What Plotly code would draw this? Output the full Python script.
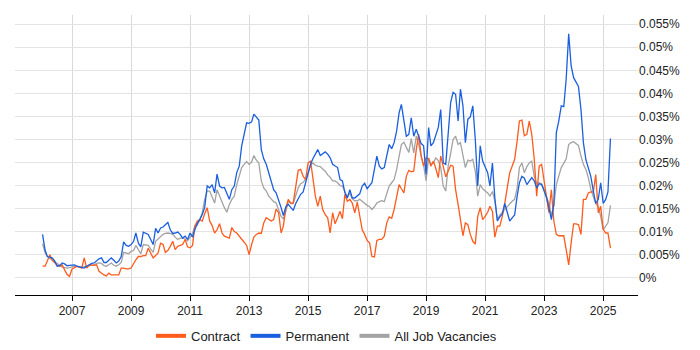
import pandas as pd
import plotly.graph_objects as go

start_month = "2006-01-01"

contract = [
    0.0025, 0.0025, 0.0036, 0.0050, 0.0038, 0.0032, 0.0027, 0.0025, 0.0028, 0.0017, 0.0007, 0.0003,
    0.0019, 0.0022, 0.0025, 0.0023, 0.0021, 0.0043, 0.0021, 0.0027, 0.0028, 0.0027, 0.0028, 0.0014,
    0.0009, 0.0006, 0.0004, 0.0010, 0.0006, 0.0006, 0.0006, 0.0006, 0.0021, 0.0021, 0.0019, 0.0019,
    0.0021, 0.0032, 0.0039, 0.0046, 0.0046, 0.0048, 0.0048, 0.0064, 0.0052, 0.0043, 0.0048, 0.0054,
    0.0075, 0.0072, 0.0055, 0.0059, 0.0068, 0.0079, 0.0061, 0.0068, 0.0070, 0.0072, 0.0083, 0.0067,
    0.0065, 0.0070, 0.0112, 0.0123, 0.0126, 0.0123, 0.0139, 0.0152, 0.0123, 0.0113, 0.0097, 0.0104,
    0.0117, 0.0097, 0.0090, 0.0088, 0.0086, 0.0109, 0.0100, 0.0097, 0.0091, 0.0083, 0.0077, 0.0070,
    0.0050, 0.0072, 0.0088, 0.0094, 0.0097, 0.0096, 0.0119, 0.0130, 0.0126, 0.0123, 0.0126, 0.0149,
    0.0141, 0.0097, 0.0112, 0.0152, 0.0170, 0.0162, 0.0162, 0.0195, 0.0233, 0.0235, 0.0220, 0.0213,
    0.0249, 0.0253, 0.0213, 0.0177, 0.0155, 0.0177, 0.0148, 0.0137, 0.0130, 0.0097, 0.0141, 0.0117,
    0.0130, 0.0144, 0.0128, 0.0181, 0.0166, 0.0170, 0.0162, 0.0141, 0.0164, 0.0136, 0.0104, 0.0094,
    0.0081, 0.0075, 0.0046, 0.0045, 0.0081, 0.0083, 0.0083, 0.0090, 0.0119, 0.0132, 0.0129, 0.0148,
    0.0173, 0.0202, 0.0193, 0.0184, 0.0220, 0.0233, 0.0230, 0.0231, 0.0278, 0.0311, 0.0264, 0.0242,
    0.0260, 0.0258, 0.0242, 0.0253, 0.0237, 0.0217, 0.0264, 0.0242, 0.0219, 0.0231, 0.0244, 0.0242,
    0.0191, 0.0159, 0.0126, 0.0091, 0.0119, 0.0115, 0.0094, 0.0079, 0.0073, 0.0133, 0.0152, 0.0126,
    0.0133, 0.0142, 0.0155, 0.0144, 0.0088, 0.0112, 0.0112, 0.0133, 0.0162, 0.0191, 0.0228, 0.0242,
    0.0257, 0.0297, 0.0340, 0.0342, 0.0308, 0.0311, 0.0340, 0.0311, 0.0257, 0.0177, 0.0242, 0.0246,
    0.0210, 0.0170, 0.0141, 0.0191, 0.0123, 0.0094, 0.0091, 0.0091, 0.0091, 0.0061, 0.0028, 0.0075,
    0.0117, 0.0117, 0.0115, 0.0094, 0.0170, 0.0170, 0.0184, 0.0186, 0.0186, 0.0224, 0.0141, 0.0155,
    0.0105, 0.0097, 0.0097, 0.0064,
]

permanent = [
    0.0094, 0.0060, 0.0046, 0.0045, 0.0043, 0.0036, 0.0025, 0.0026, 0.0032, 0.0030, 0.0026, 0.0027,
    0.0028, 0.0028, 0.0025, 0.0024, 0.0022, 0.0021, 0.0025, 0.0028, 0.0031, 0.0032, 0.0036, 0.0041,
    0.0043, 0.0033, 0.0033, 0.0039, 0.0043, 0.0038, 0.0032, 0.0036, 0.0046, 0.0078, 0.0070, 0.0068,
    0.0072, 0.0079, 0.0097, 0.0075, 0.0067, 0.0099, 0.0097, 0.0094, 0.0083, 0.0072, 0.0107, 0.0097,
    0.0108, 0.0110, 0.0115, 0.0120, 0.0104, 0.0096, 0.0097, 0.0099, 0.0094, 0.0086, 0.0090, 0.0083,
    0.0097, 0.0088, 0.0104, 0.0118, 0.0126, 0.0137, 0.0152, 0.0199, 0.0195, 0.0202, 0.0184, 0.0225,
    0.0199, 0.0195, 0.0196, 0.0181, 0.0170, 0.0191, 0.0199, 0.0228, 0.0242, 0.0286, 0.0315, 0.0336,
    0.0335, 0.0338, 0.0355, 0.0349, 0.0342, 0.0278, 0.0258, 0.0246, 0.0229, 0.0213, 0.0191, 0.0184,
    0.0170, 0.0152, 0.0135, 0.0154, 0.0159, 0.0152, 0.0146, 0.0161, 0.0173, 0.0181, 0.0186, 0.0206,
    0.0224, 0.0246, 0.0258, 0.0268, 0.0278, 0.0265, 0.0268, 0.0273, 0.0268, 0.0260, 0.0246, 0.0242,
    0.0239, 0.0213, 0.0210, 0.0184, 0.0173, 0.0191, 0.0173, 0.0173, 0.0178, 0.0182, 0.0199, 0.0205,
    0.0193, 0.0199, 0.0206, 0.0235, 0.0264, 0.0242, 0.0236, 0.0239, 0.0264, 0.0289, 0.0280, 0.0293,
    0.0318, 0.0358, 0.0376, 0.0344, 0.0307, 0.0311, 0.0347, 0.0307, 0.0322, 0.0307, 0.0291, 0.0286,
    0.0224, 0.0326, 0.0286, 0.0293, 0.0311, 0.0326, 0.0365, 0.0249, 0.0246, 0.0315, 0.0380, 0.0402,
    0.0398, 0.0340, 0.0409, 0.0373, 0.0293, 0.0344, 0.0349, 0.0373, 0.0300, 0.0199, 0.0286, 0.0253,
    0.0242, 0.0228, 0.0199, 0.0249, 0.0173, 0.0123, 0.0132, 0.0138, 0.0161, 0.0141, 0.0123, 0.0130,
    0.0136, 0.0177, 0.0206, 0.0220, 0.0216, 0.0202, 0.0210, 0.0217, 0.0210, 0.0195, 0.0204, 0.0202,
    0.0188, 0.0173, 0.0152, 0.0126, 0.0159, 0.0315, 0.0340, 0.0373, 0.0371, 0.0431, 0.0529, 0.0460,
    0.0434, 0.0423, 0.0415, 0.0365, 0.0293, 0.0256, 0.0235, 0.0220, 0.0188, 0.0161, 0.0170, 0.0206,
    0.0161, 0.0170, 0.0186, 0.0302,
]

all_jobs = [
    0.0074, 0.0054, 0.0046, 0.0042, 0.0038, 0.0033, 0.0030, 0.0026, 0.0023, 0.0022, 0.0021, 0.0022,
    0.0024, 0.0025, 0.0024, 0.0023, 0.0023, 0.0024, 0.0025, 0.0026, 0.0028, 0.0028, 0.0031, 0.0032,
    0.0031, 0.0026, 0.0025, 0.0028, 0.0032, 0.0027, 0.0025, 0.0028, 0.0033, 0.0055, 0.0054, 0.0052,
    0.0057, 0.0059, 0.0070, 0.0059, 0.0052, 0.0072, 0.0071, 0.0070, 0.0062, 0.0055, 0.0079, 0.0084,
    0.0091, 0.0094, 0.0096, 0.0097, 0.0096, 0.0094, 0.0088, 0.0083, 0.0086, 0.0086, 0.0084, 0.0080,
    0.0088, 0.0096, 0.0112, 0.0114, 0.0126, 0.0141, 0.0170, 0.0188, 0.0188, 0.0177, 0.0162, 0.0191,
    0.0177, 0.0164, 0.0152, 0.0142, 0.0159, 0.0170, 0.0177, 0.0202, 0.0220, 0.0239, 0.0246, 0.0252,
    0.0246, 0.0251, 0.0265, 0.0255, 0.0249, 0.0210, 0.0195, 0.0188, 0.0177, 0.0170, 0.0165, 0.0162,
    0.0148, 0.0133, 0.0128, 0.0144, 0.0166, 0.0161, 0.0161, 0.0177, 0.0195, 0.0204, 0.0207, 0.0213,
    0.0229, 0.0244, 0.0249, 0.0244, 0.0242, 0.0241, 0.0236, 0.0231, 0.0223, 0.0218, 0.0210, 0.0210,
    0.0206, 0.0200, 0.0199, 0.0188, 0.0175, 0.0184, 0.0171, 0.0167, 0.0167, 0.0170, 0.0165, 0.0161,
    0.0157, 0.0154, 0.0148, 0.0154, 0.0162, 0.0165, 0.0167, 0.0165, 0.0181, 0.0199, 0.0206, 0.0213,
    0.0235, 0.0264, 0.0289, 0.0294, 0.0282, 0.0272, 0.0302, 0.0271, 0.0307, 0.0289, 0.0264, 0.0244,
    0.0210, 0.0260, 0.0246, 0.0249, 0.0260, 0.0254, 0.0239, 0.0199, 0.0188, 0.0242, 0.0270, 0.0300,
    0.0307, 0.0289, 0.0293, 0.0268, 0.0239, 0.0255, 0.0253, 0.0257, 0.0231, 0.0177, 0.0202, 0.0193,
    0.0189, 0.0184, 0.0177, 0.0187, 0.0166, 0.0126, 0.0136, 0.0142, 0.0148, 0.0154, 0.0161, 0.0166,
    0.0170, 0.0195, 0.0239, 0.0249, 0.0228, 0.0241, 0.0249, 0.0253, 0.0220, 0.0204, 0.0206, 0.0204,
    0.0191, 0.0177, 0.0161, 0.0135, 0.0157, 0.0202, 0.0223, 0.0239, 0.0248, 0.0258, 0.0289, 0.0293,
    0.0295, 0.0290, 0.0287, 0.0264, 0.0246, 0.0235, 0.0217, 0.0191, 0.0177, 0.0161, 0.0154, 0.0133,
    0.0104, 0.0112, 0.0119, 0.0157,
]

y_ticks = [0, 0.005, 0.01, 0.015, 0.02, 0.025, 0.03, 0.035, 0.04, 0.045, 0.05, 0.055]
y_tick_labels = ["0%", "0.005%", "0.01%", "0.015%", "0.02%", "0.025%", "0.03%",
                 "0.035%", "0.04%", "0.045%", "0.05%", "0.055%"]

series_names = ["Contract", "Permanent", "All Job Vacancies"]
series_colors = ["#ff5b1c", "#1a5fdf", "#a3a3a3"]

dates = pd.date_range(start_month, periods=len(contract), freq="MS")

fig = go.Figure()
# draw order: grey at bottom, then orange, blue on top
order = [(2, all_jobs), (0, contract), (1, permanent)]
for idx, vals in order:
    fig.add_trace(go.Scatter(
        x=dates, y=vals, mode="lines", name=series_names[idx],
        line=dict(color=series_colors[idx], width=1.3),
        showlegend=False, hoverinfo="skip",
    ))
for idx in range(3):
    fig.add_trace(go.Scatter(
        x=[None], y=[None], mode="lines", name=series_names[idx],
        line=dict(color=series_colors[idx], width=4),
        showlegend=True,
    ))

fig.update_layout(
    width=700, height=350,
    margin=dict(l=15, r=62, t=15, b=55, autoexpand=False),
    paper_bgcolor="white", plot_bgcolor="white",
    font=dict(family="Liberation Sans, Arial, sans-serif", size=12, color="#222222"),
    legend=dict(
        orientation="h", x=0.5, xanchor="center", y=-0.146, yanchor="middle",
        font=dict(size=13, color="#222222"), traceorder="normal",
        itemwidth=30,
    ),
    xaxis=dict(
        type="date", automargin=False,
        range=["2005-01-25", "2026-03-08"],
        tick0="2007-01-01", dtick="M24", tickformat="%Y",
        showgrid=True, gridcolor="#d9d9d9", gridwidth=1,
        showline=True, linecolor="#000000", linewidth=1,
        ticks="outside", ticklen=5, tickcolor="#000000",
        zeroline=False,
    ),
    yaxis=dict(
        side="right", automargin=False,
        range=[-0.00375, 0.0570],
        tickvals=y_ticks, ticktext=y_tick_labels,
        showgrid=True, gridcolor="#e3e3e3", gridwidth=1,
        showline=False, zeroline=False, ticks="",
    ),
)

fig.write_html(
    "out.html",
    config={"displayModeBar": False},
    post_script="document.body.style.margin='0px';document.body.style.overflow='hidden';",
)
